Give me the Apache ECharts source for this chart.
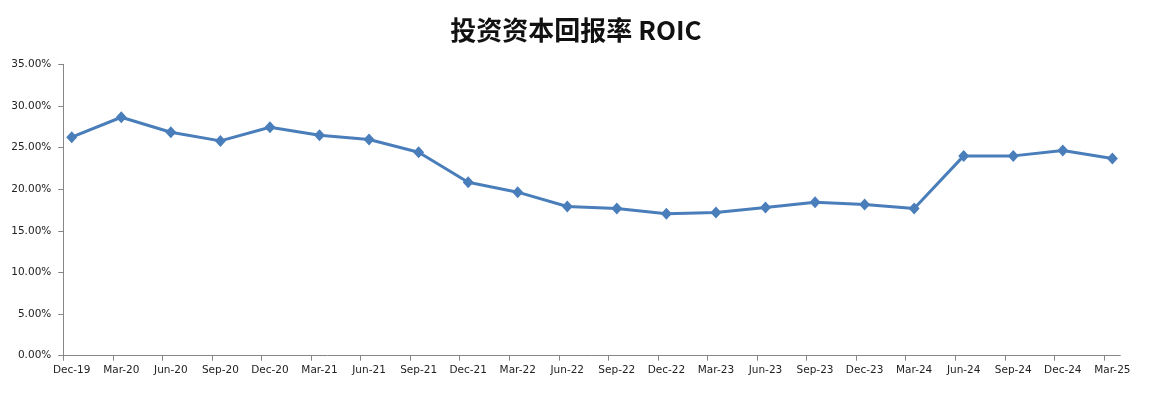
<!DOCTYPE html>
<html>
<head>
<meta charset="utf-8">
<script src="https://cdn.jsdelivr.net/npm/echarts@6/dist/echarts.min.js"></script>
<style>html,body{margin:0;padding:0;background:#fff;}#c{width:1152px;height:399px;}</style>
</head>
<body>
<div id="c"></div>
<script>
const titleText = '投资资本回报率 ROIC';
const categories = ['Dec-19','Mar-20','Jun-20','Sep-20','Dec-20','Mar-21','Jun-21','Sep-21','Dec-21','Mar-22','Jun-22','Sep-22','Dec-22','Mar-23','Jun-23','Sep-23','Dec-23','Mar-24','Jun-24','Sep-24','Dec-24','Mar-25'];
const roic = [26.24, 28.64, 26.84, 25.80, 27.44, 26.48, 25.96, 24.44, 20.84, 19.64, 17.92, 17.68, 17.04, 17.20, 17.80, 18.44, 18.16, 17.68, 24.00, 24.00, 24.64, 23.68];
const yTicks = [0, 5, 10, 15, 20, 25, 30, 35];

const offset = 0.17;
const chart = echarts.init(document.getElementById('c'));
chart.setOption({
  animation: false,
  backgroundColor: '#fff',
  title: {
    text: titleText, left: 'center', top: 12,
    textStyle: { fontFamily: '"Noto Sans CJK SC", sans-serif', fontSize: 26, fontWeight: 'bold', color: '#111' }
  },
  grid: { left: 63.3, right: 31.7, top: 64.3, bottom: 43.3, containLabel: false },
  xAxis: {
    type: 'value', min: -offset, max: categories.length - 1 + offset - 0.01,
    splitLine: { show: false },
    axisLine: { show: true, onZero: false, lineStyle: { color: '#868686', width: 1 } },
    axisTick: { show: true, length: 5, lineStyle: { color: '#868686' },
      customValues: categories.map((c, i) => i - offset) },
    axisLabel: {
      customValues: categories.map((c, i) => i),
      formatter: v => categories[Math.round(v)] || '',
      fontFamily: 'DejaVu Sans', fontSize: 10.5, color: '#222', margin: 9,
      showMinLabel: true, showMaxLabel: true, hideOverlap: false
    }
  },
  yAxis: {
    type: 'value', min: yTicks[0], max: yTicks[yTicks.length - 1], interval: 5,
    splitLine: { show: false },
    axisLine: { show: true, onZero: false, lineStyle: { color: '#868686', width: 1 } },
    axisTick: { show: true, length: 5, lineStyle: { color: '#868686' } },
    axisLabel: {
      formatter: v => v.toFixed(2) + '%',
      fontFamily: 'DejaVu Sans', fontSize: 10.5, color: '#222', margin: 12
    }
  },
  series: [{
    type: 'line',
    data: roic.map((v, i) => [i, v]),
    symbol: 'diamond', symbolSize: [11, 12],
    lineStyle: { color: '#4A7EBB', width: 3 },
    itemStyle: { color: '#4A7EBB' }
  }]
});
</script>
</body>
</html>
